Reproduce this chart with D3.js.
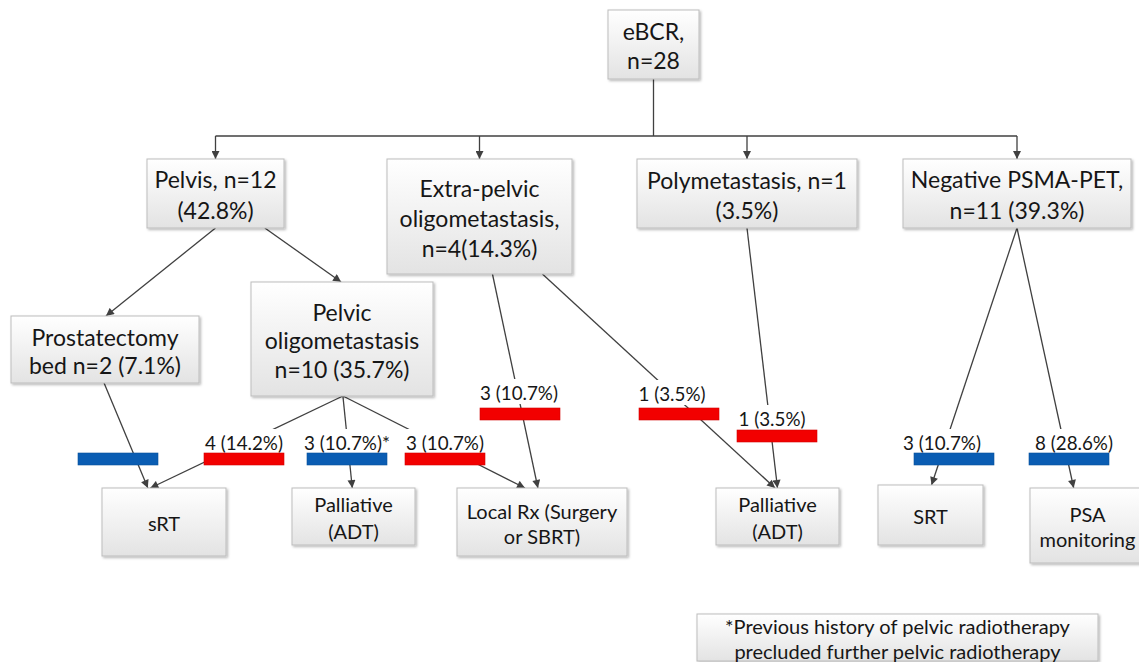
<!DOCTYPE html>
<html>
<head>
<meta charset="utf-8">
<script src="https://cdn.jsdelivr.net/npm/d3@7"></script>
<style>
    body { margin: 0; background: #fff; }
    svg text { font-family: Lato, "Open Sans", sans-serif; fill: #161616; }
</style>
</head>
<body>
<div id="chart"></div>
<script>
// ---- data ----
const nodeIds = ["ebcr", "pelvis", "extra", "poly", "neg", "prost", "pelvicOligo",
                 "srt1", "pall1", "localRx", "pall2", "srt2", "psa"];
const nodeLines = [
    ["eBCR,", "n=28"],
    ["Pelvis, n=12", "(42.8%)"],
    ["Extra-pelvic", "oligometastasis,", "n=4(14.3%)"],
    ["Polymetastasis, n=1", "(3.5%)"],
    ["Negative PSMA-PET,", "n=11 (39.3%)"],
    ["Prostatectomy", "bed n=2 (7.1%)"],
    ["Pelvic", "oligometastasis", "n=10 (35.7%)"],
    ["sRT"],
    ["Palliative", "(ADT)"],
    ["Local Rx (Surgery", "or SBRT)"],
    ["Palliative", "(ADT)"],
    ["SRT"],
    ["PSA", "monitoring"]
];
const footnoteLines = ["*Previous history of pelvic radiotherapy", "precluded further pelvic radiotherapy"];

// eBCR splits into the four PSMA-PET findings, pelvis splits again
const firstSplit = ["pelvis", "extra", "poly", "neg"];
const pelvisSplit = ["prost", "pelvicOligo"];

// branches to management (changed management = red, unchanged = blue)
const branchFrom   = ["prost", "pelvicOligo", "pelvicOligo", "pelvicOligo", "extra", "extra", "poly", "neg", "neg"];
const branchTo     = ["srt1", "srt1", "pall1", "localRx", "localRx", "pall2", "pall2", "srt2", "psa"];
const branchLabel  = ["", "4 (14.2%)", "3 (10.7%)*", "3 (10.7%)", "3 (10.7%)", "1 (3.5%)", "1 (3.5%)", "3 (10.7%)", "8 (28.6%)"];
const branchChange = ["no", "yes", "no", "yes", "yes", "yes", "yes", "no", "no"];

// ---- layout ----
const W = 1139, H = 662;
// x, y, w, h, line height, font size
const boxLayout = {
    ebcr:        [608, 10, 91, 69, 29, 23],
    pelvis:      [147, 159, 137, 69, 31, 23],
    extra:       [387, 159, 185, 115, 30, 23],
    poly:        [637, 159, 220, 69, 30, 23],
    neg:         [903, 159, 228, 69, 31, 23],
    prost:       [11, 316, 188, 67, 28, 23],
    pelvicOligo: [251, 282, 182, 114, 28.5, 23],
    srt1:        [102, 488, 124, 68, 26, 20],
    pall1:       [292, 488, 123, 57, 27, 20],
    localRx:     [457, 488, 170, 68, 25, 20],
    pall2:       [716, 488, 123, 57, 27, 20],
    srt2:        [878, 485, 105, 60, 26, 20],
    psa:         [1030, 488, 115, 75, 25, 20]
};
const footLayout = [697, 614, 401, 47, 25, 20];
const trunkY = 136;
// pelvis -> children: fraction along source bottom, fraction along target top
const pelvisEdge = [[0.5, 0.505], [0.86, 0.495]];
// branch: bar x, bar y, label cx, label cy, source frac, target frac
const branchLayout = [
    [78, 453, 0, 0, 0.495, 0.37],
    [204, 453, 244, 442, 0.505, 0.39],
    [307, 453, 347, 442, 0.505, 0.49],
    [405, 453, 445, 442, 0.505, 0.40],
    [480, 408, 519, 392, 0.57, 0.476],
    [639, 408, 672, 393, 0.84, 0.48],
    [737, 430, 772, 418, 0.5, 0.5],
    [914, 453, 942, 442, 0.5, 0.51],
    [1029, 453, 1074, 442, 0.5, 0.38]
];
const barW = 80, barH = 12;

const color = d3.scaleOrdinal()
    .domain(["yes", "no"])
    .range(["#f20000", "#0a5db3"]);

const svg = d3.select("#chart")
    .append("svg")
    .attr("width", W)
    .attr("height", H);

const defs = svg.append("defs");
const grad = defs.append("linearGradient")
    .attr("id", "boxFill")
    .attr("x1", 0).attr("y1", 0).attr("x2", 0).attr("y2", 1);
grad.append("stop").attr("offset", "0%").attr("stop-color", "#ffffff");
grad.append("stop").attr("offset", "100%").attr("stop-color", "#e3e3e3");

defs.append("filter")
    .attr("id", "shadow")
    .attr("x", "-10%").attr("y", "-10%").attr("width", "130%").attr("height", "140%")
    .append("feDropShadow")
    .attr("dx", 1.5).attr("dy", 1.5).attr("stdDeviation", 1.2)
    .attr("flood-color", "#000").attr("flood-opacity", 0.28);

defs.append("marker")
    .attr("id", "arrow")
    .attr("viewBox", "0 0 10 10")
    .attr("refX", 10).attr("refY", 5)
    .attr("markerUnits", "userSpaceOnUse")
    .attr("markerWidth", 9).attr("markerHeight", 8)
    .attr("orient", "auto")
    .append("path")
    .attr("d", "M0,0L10,5L0,10z")
    .attr("fill", "#404040");

const bottomAt = (id, f) => { const b = boxLayout[id]; return [b[0] + b[2] * f, b[1] + b[3]]; };
const topAt = (id, f) => { const b = boxLayout[id]; return [b[0] + b[2] * f, b[1]]; };

const lineG = svg.append("g")
    .attr("stroke", "#404040")
    .attr("stroke-width", 1.3)
    .attr("fill", "none");

// trunk from eBCR
const root = bottomAt("ebcr", 0.5);
lineG.append("line")
    .attr("x1", root[0]).attr("y1", root[1])
    .attr("x2", root[0]).attr("y2", trunkY);
const drops = firstSplit.map(id => topAt(id, 0.5));
lineG.append("line")
    .attr("x1", d3.min(drops, d => d[0])).attr("y1", trunkY)
    .attr("x2", d3.max(drops, d => d[0])).attr("y2", trunkY);
lineG.selectAll(".drop")
    .data(drops)
    .enter().append("line")
    .attr("class", "drop")
    .attr("x1", d => d[0]).attr("y1", trunkY)
    .attr("x2", d => d[0]).attr("y2", d => d[1])
    .attr("marker-end", "url(#arrow)");

// pelvis split
lineG.selectAll(".pel")
    .data(pelvisSplit)
    .enter().append("line")
    .attr("class", "pel")
    .each(function (id, i) {
        const s = bottomAt("pelvis", pelvisEdge[i][0]);
        const t = topAt(id, pelvisEdge[i][1]);
        d3.select(this).attr("x1", s[0]).attr("y1", s[1]).attr("x2", t[0]).attr("y2", t[1]);
    })
    .attr("marker-end", "url(#arrow)");

// branch lines
lineG.selectAll(".br")
    .data(branchFrom)
    .enter().append("line")
    .attr("class", "br")
    .each(function (id, i) {
        const s = bottomAt(id, branchLayout[i][4]);
        const t = topAt(branchTo[i], branchLayout[i][5]);
        d3.select(this).attr("x1", s[0]).attr("y1", s[1]).attr("x2", t[0]).attr("y2", t[1]);
    })
    .attr("marker-end", "url(#arrow)");

// branch labels with white backing
const labG = svg.append("g");
branchLabel.forEach(function (txt, i) {
    if (!txt) return;
    const L = branchLayout[i];
    const g = labG.append("g");
    const bg = g.append("rect").attr("fill", "#fff");
    const t = g.append("text")
        .attr("x", L[2]).attr("y", L[3])
        .attr("text-anchor", "middle")
        .attr("dominant-baseline", "central")
        .style("font-size", "18.8px")
        .text(txt);
    const bb = t.node().getBBox();
    bg.attr("x", bb.x - 2).attr("y", L[3] - 13)
        .attr("width", bb.width + 4).attr("height", 25);
});

// bars
svg.append("g").selectAll("rect")
    .data(branchChange)
    .enter().append("rect")
    .attr("x", (d, i) => branchLayout[i][0])
    .attr("y", (d, i) => branchLayout[i][1])
    .attr("width", barW)
    .attr("height", barH)
    .attr("fill", d => color(d))
    .attr("stroke", d => d3.color(color(d)).darker(0.4))
    .attr("stroke-width", 0.6);

// boxes
function drawBox(b, lines) {
    const g = svg.append("g");
    g.append("rect")
        .attr("x", b[0]).attr("y", b[1])
        .attr("width", b[2]).attr("height", b[3])
        .attr("fill", "url(#boxFill)")
        .attr("stroke", "#bdbdbd")
        .attr("stroke-width", 1)
        .attr("filter", "url(#shadow)");
    const cy = b[1] + b[3] / 2 + 1;
    g.selectAll("text")
        .data(lines)
        .enter().append("text")
        .attr("x", b[0] + b[2] / 2)
        .attr("y", (d, i) => cy + (i - (lines.length - 1) / 2) * b[4])
        .attr("text-anchor", "middle")
        .attr("dominant-baseline", "central")
        .style("font-size", b[5] + "px")
        .text(d => d);
}
nodeIds.forEach((id, i) => drawBox(boxLayout[id], nodeLines[i]));
drawBox(footLayout, footnoteLines);
</script>
</body>
</html>
